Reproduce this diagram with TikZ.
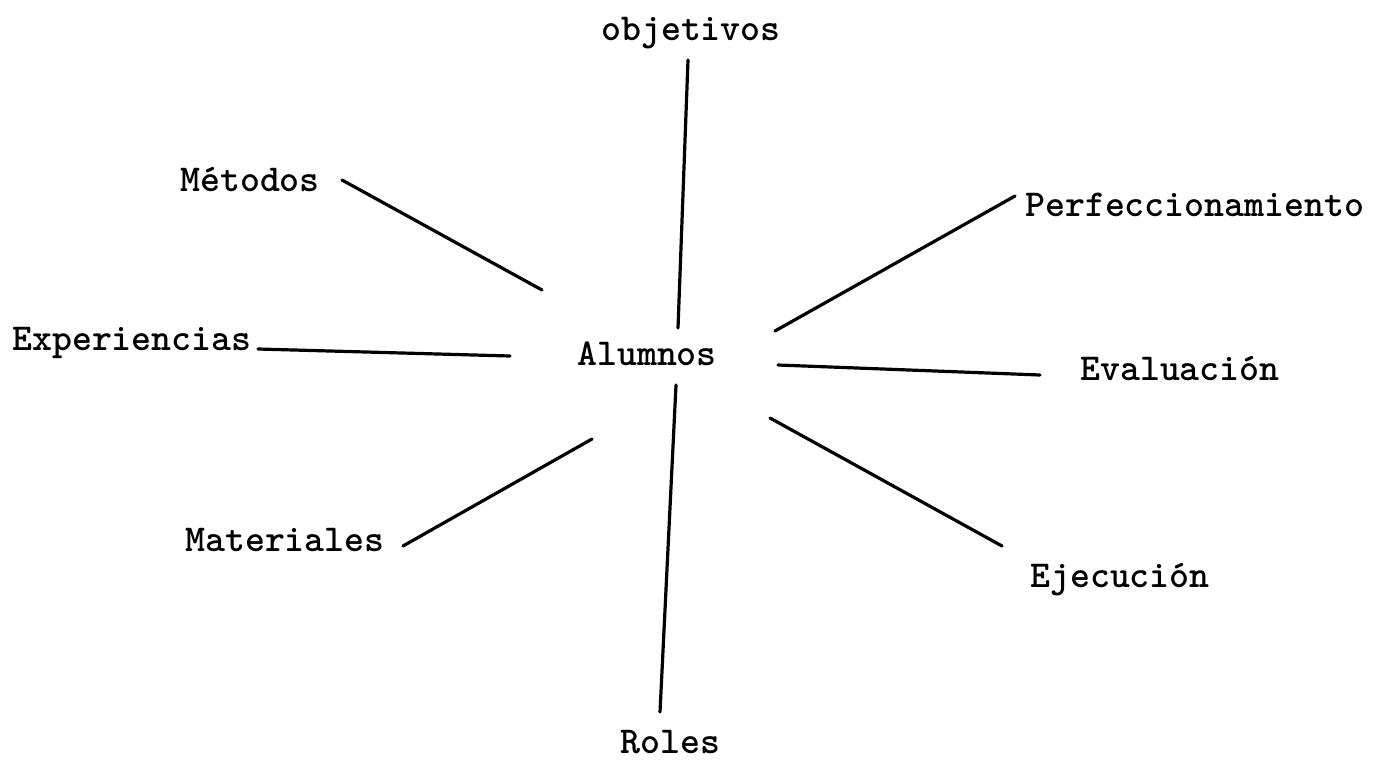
\documentclass[tikz,border=0pt]{standalone}
\usepackage{fontspec}
\begin{document}
\begin{tikzpicture}[x=1pt,y=-1pt,
  lbl/.style={anchor=base west,inner sep=0pt,font=\ttfamily\bfseries\fontsize{38}{44}\selectfont},
  spoke/.style={line width=3.2pt,line cap=round}]
\useasboundingbox (0,0) rectangle (1378,782);
\node[lbl] (obj) at (601,40) {objetivos};
\node[lbl] (met) at (180,191) {Métodos};
\node[lbl] (per) at (1025,216) {Perfeccionamiento};
\node[lbl] (exp) at (12,350) {Experiencias};
\node[lbl] (alu) at (577,365) {Alumnos};
\node[lbl] (eva) at (1080,380) {Evaluación};
\node[lbl] (mat) at (185,551) {Materiales};
\node[lbl] (eje) at (1030,587) {Ejecución};
\node[lbl] (rol) at (620,753) {Roles};
% connector ends
\coordinate (objA) at (688,60);   \coordinate (objB) at (678,328);
\coordinate (metA) at (342,180);  \coordinate (metB) at (542,290);
\coordinate (perA) at (1015,196); \coordinate (perB) at (775,331);
\coordinate (expA) at (258,349);  \coordinate (expB) at (510,356);
\coordinate (evaA) at (1040,375); \coordinate (evaB) at (778,365);
\coordinate (matA) at (403,546);  \coordinate (matB) at (592,439);
\coordinate (ejeA) at (1002,546); \coordinate (ejeB) at (770,418);
\coordinate (rolA) at (660,712);  \coordinate (rolB) at (676,385);
\draw[spoke] (objA) -- (objB);
\draw[spoke] (metA) -- (metB);
\draw[spoke] (perA) -- (perB);
\draw[spoke] (expA) -- (expB);
\draw[spoke] (evaA) -- (evaB);
\draw[spoke] (matA) -- (matB);
\draw[spoke] (ejeA) -- (ejeB);
\draw[spoke] (rolA) -- (rolB);
\end{tikzpicture}
\end{document}
